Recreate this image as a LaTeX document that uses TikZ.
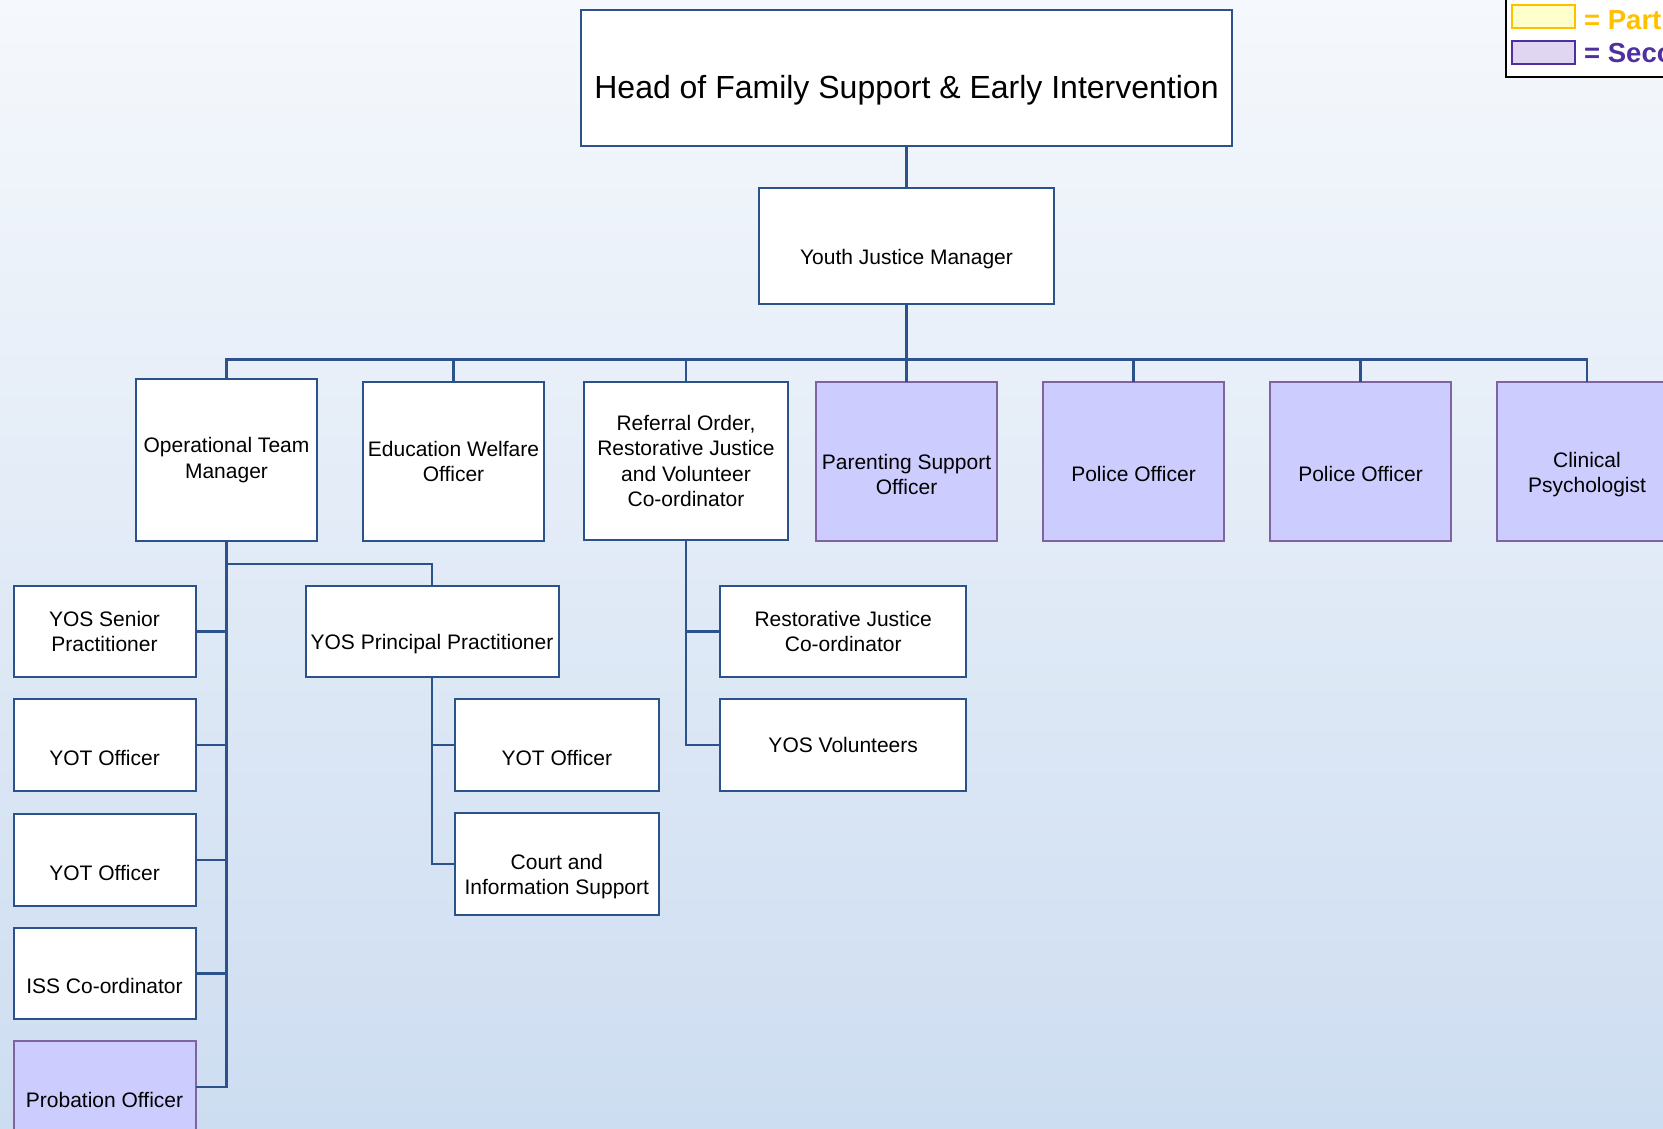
\documentclass[tikz,border=0pt]{standalone}
\usepackage{fontspec}
\setmainfont{Liberation Sans}
\usetikzlibrary{positioning}

\definecolor{bgtop}{RGB}{245,248,252}
\definecolor{bgbottom}{RGB}{205,221,241}
\definecolor{boxblue}{RGB}{44,82,140}
\definecolor{secfill}{RGB}{204,204,255}
\definecolor{secedge}{RGB}{128,100,162}
\definecolor{keygold}{RGB}{255,192,0}
\definecolor{keyyellow}{RGB}{255,255,204}
\definecolor{keypurple}{RGB}{80,48,160}
\definecolor{keylilac}{RGB}{224,214,242}

\newcommand{\topgap}{\strut\\[-2pt]}

\begin{document}
\begin{tikzpicture}[x=1pt,y=-1pt,
	card/.style={draw=boxblue, fill=white, line width=2pt, inner sep=0pt, outer sep=0pt},
	box/.style={card, align=center, font=\fontsize{21}{25.2}\selectfont},
	seconded/.style={box, draw=secedge, fill=secfill},
	post/.style={minimum width=181pt, minimum height=159pt},
	staff/.style={minimum width=182pt, minimum height=91.5pt},
	link/.style={boxblue, line width=2.2pt},
	keybox/.style={line width=2pt, inner sep=0pt, minimum width=63pt, minimum height=23pt},
	keytext/.style={anchor=base west, inner sep=0pt, font=\fontsize{27.5}{33}\selectfont\bfseries}]
		\useasboundingbox (0,0) rectangle (1663,1128);
		\clip (0,0) rectangle (1663,1128);
		\shade[top color=bgtop, bottom color=bgbottom] (0,0) rectangle (1663,1128);

		\node[card, minimum width=651pt, minimum height=136pt, font=\fontsize{32}{38.4}\selectfont, text height=48pt, text depth=7pt] (head) at (906.5,77.5) {Head of Family Support \& Early Intervention};
		\node[box, minimum width=295pt, minimum height=116.5pt] (yjm) at (906.5,246) {\topgap Youth Justice Manager};

		\node[box, post, minimum height=162pt] (otm) at (226.5,460) {Operational Team\\Manager};
		\node[box, post] (ewo) at (453.5,461.5) {Education Welfare\\Officer};
		\node[box, post, minimum width=204pt, minimum height=158pt] (referral) at (686,461) {Referral Order,\\Restorative Justice\\and Volunteer\\Co-ordinator};
		\node[seconded, post] (parenting) at (906.5,461.5) {\topgap Parenting Support\\Officer};
		\node[seconded, post] (policeA) at (1133.5,461.5) {\topgap Police Officer};
		\node[seconded, post] (policeB) at (1360.5,461.5) {\topgap Police Officer};
		\node[seconded, post] (clinical) at (1587,461.5) {\topgap Clinical\\Psychologist};

		\node[box, staff] (senior) at (104.5,631.5) {YOS Senior\\Practitioner};
		\node[box, staff] (yotA) at (104.5,745) {\topgap YOT Officer};
		\node[box, staff] (yotB) at (104.5,860) {\topgap YOT Officer};
		\node[box, staff] (iss) at (104.5,973.5) {\topgap ISS Co-ordinator};
		\node[seconded, staff] (probation) at (104.5,1087) {\topgap Probation Officer};

		\node[box, staff, minimum width=253pt] (principal) at (432,631.5) {\topgap YOS Principal Practitioner};
		\node[box, staff, minimum width=204pt] (yotC) at (556.8,745) {\topgap YOT Officer};
		\node[box, staff, minimum width=204pt, minimum height=102pt] (court) at (556.8,864) {\topgap Court and\\Information Support};

		\node[box, staff, minimum width=246pt] (rjc) at (843.2,631.5) {Restorative Justice\\Co-ordinator};
		\node[box, staff, minimum width=246pt] (volunteers) at (843.2,745) {YOS Volunteers};

		\coordinate (bus) at (906.5,359.5);
		\coordinate (otmjoin) at (226.5,563.6);
		\draw[link] (head) -- (yjm);
		\draw[link] (yjm) -- (parenting);
		\foreach \n in {otm,ewo,referral,policeA,policeB,clinical}
			\draw[link] (bus) -| (\n.north);
		\foreach \n in {senior,yotA,yotB,iss,probation}
			\draw[link] (otm.south) |- (\n.east);
		\draw[link] (otmjoin) -| (principal.north);
		\foreach \n in {yotC,court}
			\draw[link] (principal.south) |- (\n.west);
		\foreach \n in {rjc,volunteers}
			\draw[link] (referral.south) |- (\n.west);

		\draw[black, line width=2pt, fill=white] (1506,-5) rectangle (1700,76.7);
		\node[keybox, draw=keygold, fill=keyyellow] (keypart) at (1543.5,16.3) {};
		\node[keybox, draw=keypurple, fill=keylilac] (keyseco) at (1543.5,52) {};
		\node[keytext, text=keygold] (parttext) at (1584,29) {= Part};
		\node[keytext, text=keypurple] (secotext) at (1584,62.5) {= Seco};
	\end{tikzpicture}
\end{document}
